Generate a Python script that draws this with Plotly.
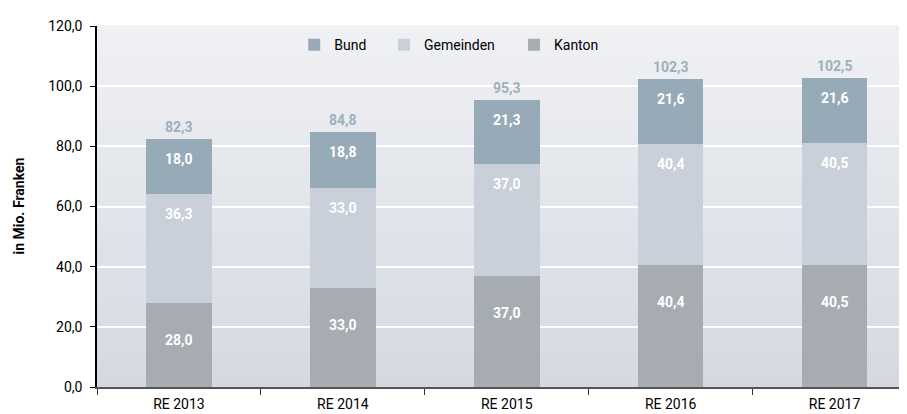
import plotly.graph_objects as go

categories = ["RE 2013", "RE 2014", "RE 2015", "RE 2016", "RE 2017"]
kanton = [28.0, 33.0, 37.0, 40.4, 40.5]
gemeinden = [36.3, 33.0, 37.0, 40.4, 40.5]
bund = [18.0, 18.8, 21.3, 21.6, 21.6]
totals = [82.3, 84.8, 95.3, 102.3, 102.5]
y_ticks = [0, 20, 40, 60, 80, 100, 120]

FONT = "Roboto, Liberation Sans, sans-serif"
C_BUND = "#97aab7"
C_GEM = "#c9d0d9"
C_KAN = "#a7abb2"

fig = go.Figure()
series = [("Kanton", kanton, C_KAN, "legend3"), ("Gemeinden", gemeinden, C_GEM, "legend2"), ("Bund", bund, C_BUND, "legend")]
for name, vals, col, leg in series:
    fig.add_trace(go.Bar(x=categories, y=vals, name=name, marker=dict(color=col, line=dict(width=0)),
                         legend=leg, hoverinfo="skip"))

def fmt(v):
    return f"{v:.1f}".replace(".", ",")

annotations = []
for i, c in enumerate(categories):
    top_k = kanton[i]
    top_g = kanton[i] + gemeinden[i]
    top_b = top_g + bund[i]
    for val, top, shift in [(kanton[i], top_k, -37), (gemeinden[i], top_g, -20), (bund[i], top_b, -20)]:
        annotations.append(dict(x=c, y=top, text=f"<b>{fmt(val)}</b>", showarrow=False, yshift=shift,
                                font=dict(family=FONT, size=14, color="white"), xref="x", yref="y"))
    annotations.append(dict(x=c, y=top_b, text=f"<b>{fmt(totals[i])}</b>", showarrow=False, yshift=12,
                            font=dict(family=FONT, size=14, color="#9eb0bd"), xref="x", yref="y"))

annotations.append(dict(x=-0.0975, y=0.5, xref="paper", yref="paper", text="<b>in Mio. Franken</b>",
                        textangle=-90, showarrow=False, font=dict(family=FONT, size=14, color="black"),
                        xanchor="center", yanchor="middle"))

shapes = []
n = 60
top_rgb = (240, 241, 244)
bot_rgb = (212, 217, 225)
for k in range(n):
    t = (k + 0.5) / n
    r = round(bot_rgb[0] + (top_rgb[0] - bot_rgb[0]) * t)
    g = round(bot_rgb[1] + (top_rgb[1] - bot_rgb[1]) * t)
    b = round(bot_rgb[2] + (top_rgb[2] - bot_rgb[2]) * t)
    shapes.append(dict(type="rect", xref="paper", yref="paper", x0=0, x1=1, y0=k / n, y1=(k + 1) / n + 0.002,
                       fillcolor=f"rgb({r},{g},{b})", line=dict(width=0), layer="below"))

def leg(x):
    return dict(orientation="h", x=x, xanchor="left", y=0.947, yanchor="middle",
                bgcolor="rgba(0,0,0,0)", font=dict(family=FONT, size=14, color="black"),
                itemclick=False, itemdoubleclick=False)

fig.update_layout(
    width=899, height=406,
    margin=dict(l=89, r=0, t=18, b=27),
    barmode="stack", bargap=0.6,
    paper_bgcolor="white", plot_bgcolor="rgba(0,0,0,0)",
    separators=",.",
    font=dict(family=FONT, size=14, color="black"),
    showlegend=True,
    legend=leg(0.2435), legend2=leg(0.3543), legend3=leg(0.5148),
    annotations=annotations,
    shapes=shapes,
    xaxis=dict(range=[-0.5, 4.442], showgrid=False, ticks="outside", tickson="boundaries",
               ticklen=6, tickcolor="#333", tickwidth=1, showline=True, linecolor="#555", linewidth=2,
               ticklabelstandoff=3,
               tickfont=dict(family=FONT, size=14, color="black"), fixedrange=True),
    yaxis=dict(range=[0, 120], tickvals=y_ticks, tickformat=".1f", showgrid=True, gridcolor="white",
               gridwidth=1.5, zeroline=False, showline=True, linecolor="black", linewidth=1.5,
               ticks="outside", ticklen=5, tickcolor="black", tickwidth=1, ticklabelstandoff=5,
               tickfont=dict(family=FONT, size=14, color="black"), fixedrange=True),
)

fig.write_html("out.html")
